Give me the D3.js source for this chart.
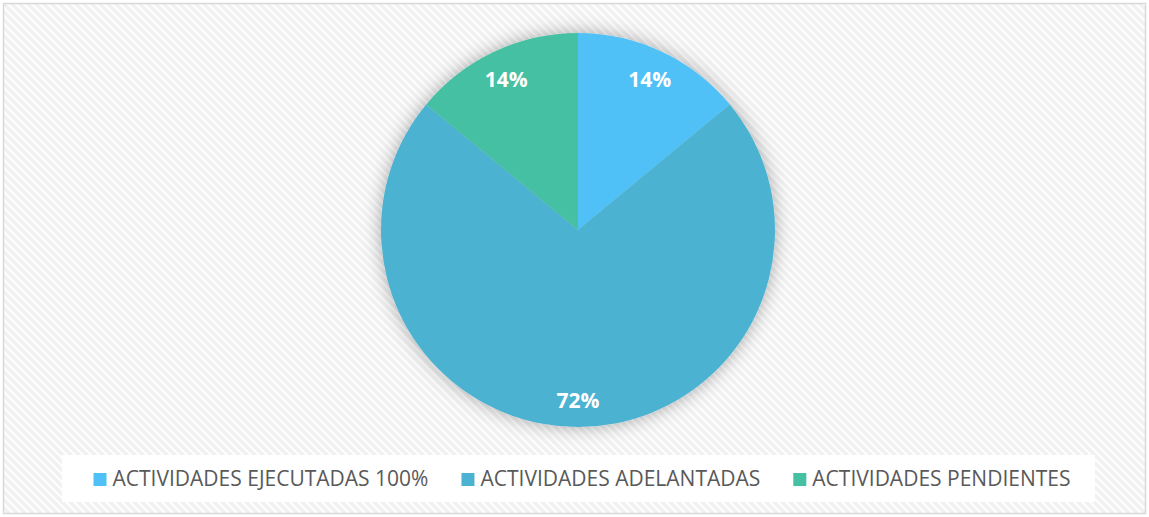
<!DOCTYPE html>
<html><head><meta charset="utf-8">
<script src="https://cdn.jsdelivr.net/npm/d3@7/dist/d3.min.js"></script>
<style>html,body{margin:0;padding:0;background:#fff;}svg{display:block;}</style>
</head><body>
<svg id="c" width="1149" height="517"></svg>
<script>
const categories = ["ACTIVIDADES EJECUTADAS 100%", "ACTIVIDADES ADELANTADAS", "ACTIVIDADES PENDIENTES"];
const values = [14, 72, 14];
const labels = ["14%", "72%", "14%"];
const colors = ["#4FC1F7", "#4BB2D1", "#45C0A2"];

const W = 1149, H = 517;
const svg = d3.select("#c");
const defs = svg.append("defs");
const pat = defs.append("pattern").attr("id","hatch").attr("patternUnits","userSpaceOnUse")
  .attr("width",8).attr("height",8);
pat.append("rect").attr("width",8).attr("height",8).attr("fill","#ffffff");
pat.append("path").attr("d","M-2,-2 L10,10 M-2,6 L2,10 M6,-2 L10,2")
  .attr("stroke","#f1f1f1").attr("stroke-width",3.5);
const f = defs.append("filter").attr("id","sh").attr("x","-30%").attr("y","-30%").attr("width","160%").attr("height","160%");
f.append("feDropShadow").attr("dx",0).attr("dy",0).attr("stdDeviation",9)
  .attr("flood-color","#000").attr("flood-opacity",0.33);

svg.append("rect").attr("x",3.5).attr("y",3.5).attr("width",W-7).attr("height",H-7)
  .attr("fill","url(#hatch)").attr("stroke","#d9d9d9").attr("stroke-width",1.5);

const cx = 578, cy = 230, R = 197;
const pie = d3.pie().sort(null).value(d => d)(values);
const arc = d3.arc().innerRadius(0).outerRadius(R);
const g = svg.append("g").attr("transform",`translate(${cx},${cy})`);
g.append("g").attr("filter","url(#sh)").selectAll("path").data(pie).join("path")
  .attr("d",arc).attr("fill",(d,i)=>colors[i]);
const la = d3.arc().innerRadius(R*0.855).outerRadius(R*0.855);
g.selectAll("text").data(pie).join("text")
  .attr("transform",d=>`translate(${la.centroid(d)})`)
  .attr("text-anchor","middle").attr("dy","0.45em")
  .attr("fill","#fff").attr("font-family","'Open Sans'").attr("font-weight","bold")
  .attr("font-size",21).text((d,i)=>labels[i]);

// legend
svg.append("rect").attr("x",62).attr("y",455).attr("width",1033).attr("height",47).attr("fill","#fff");
const lg = svg.append("g");
const items = lg.selectAll("g").data(categories).join("g");
items.append("rect").attr("width",13).attr("height",13).attr("y",-13).attr("fill",(d,i)=>colors[i]);
items.append("text").attr("x",19).attr("font-family","'Open Sans'").attr("font-size",21)
  .attr("fill","#595959").text(d=>d);
let widths = [];
items.each(function(){ widths.push(19 + d3.select(this).select("text").node().getComputedTextLength()); });
const gap = 33;
const total = d3.sum(widths) + gap*(widths.length-1);
let x0 = 582 - total/2;
items.attr("transform",(d,i)=>{ const x = x0 + d3.sum(widths.slice(0,i)) + gap*i; return `translate(${x},486)`; });
</script>
</body></html>
